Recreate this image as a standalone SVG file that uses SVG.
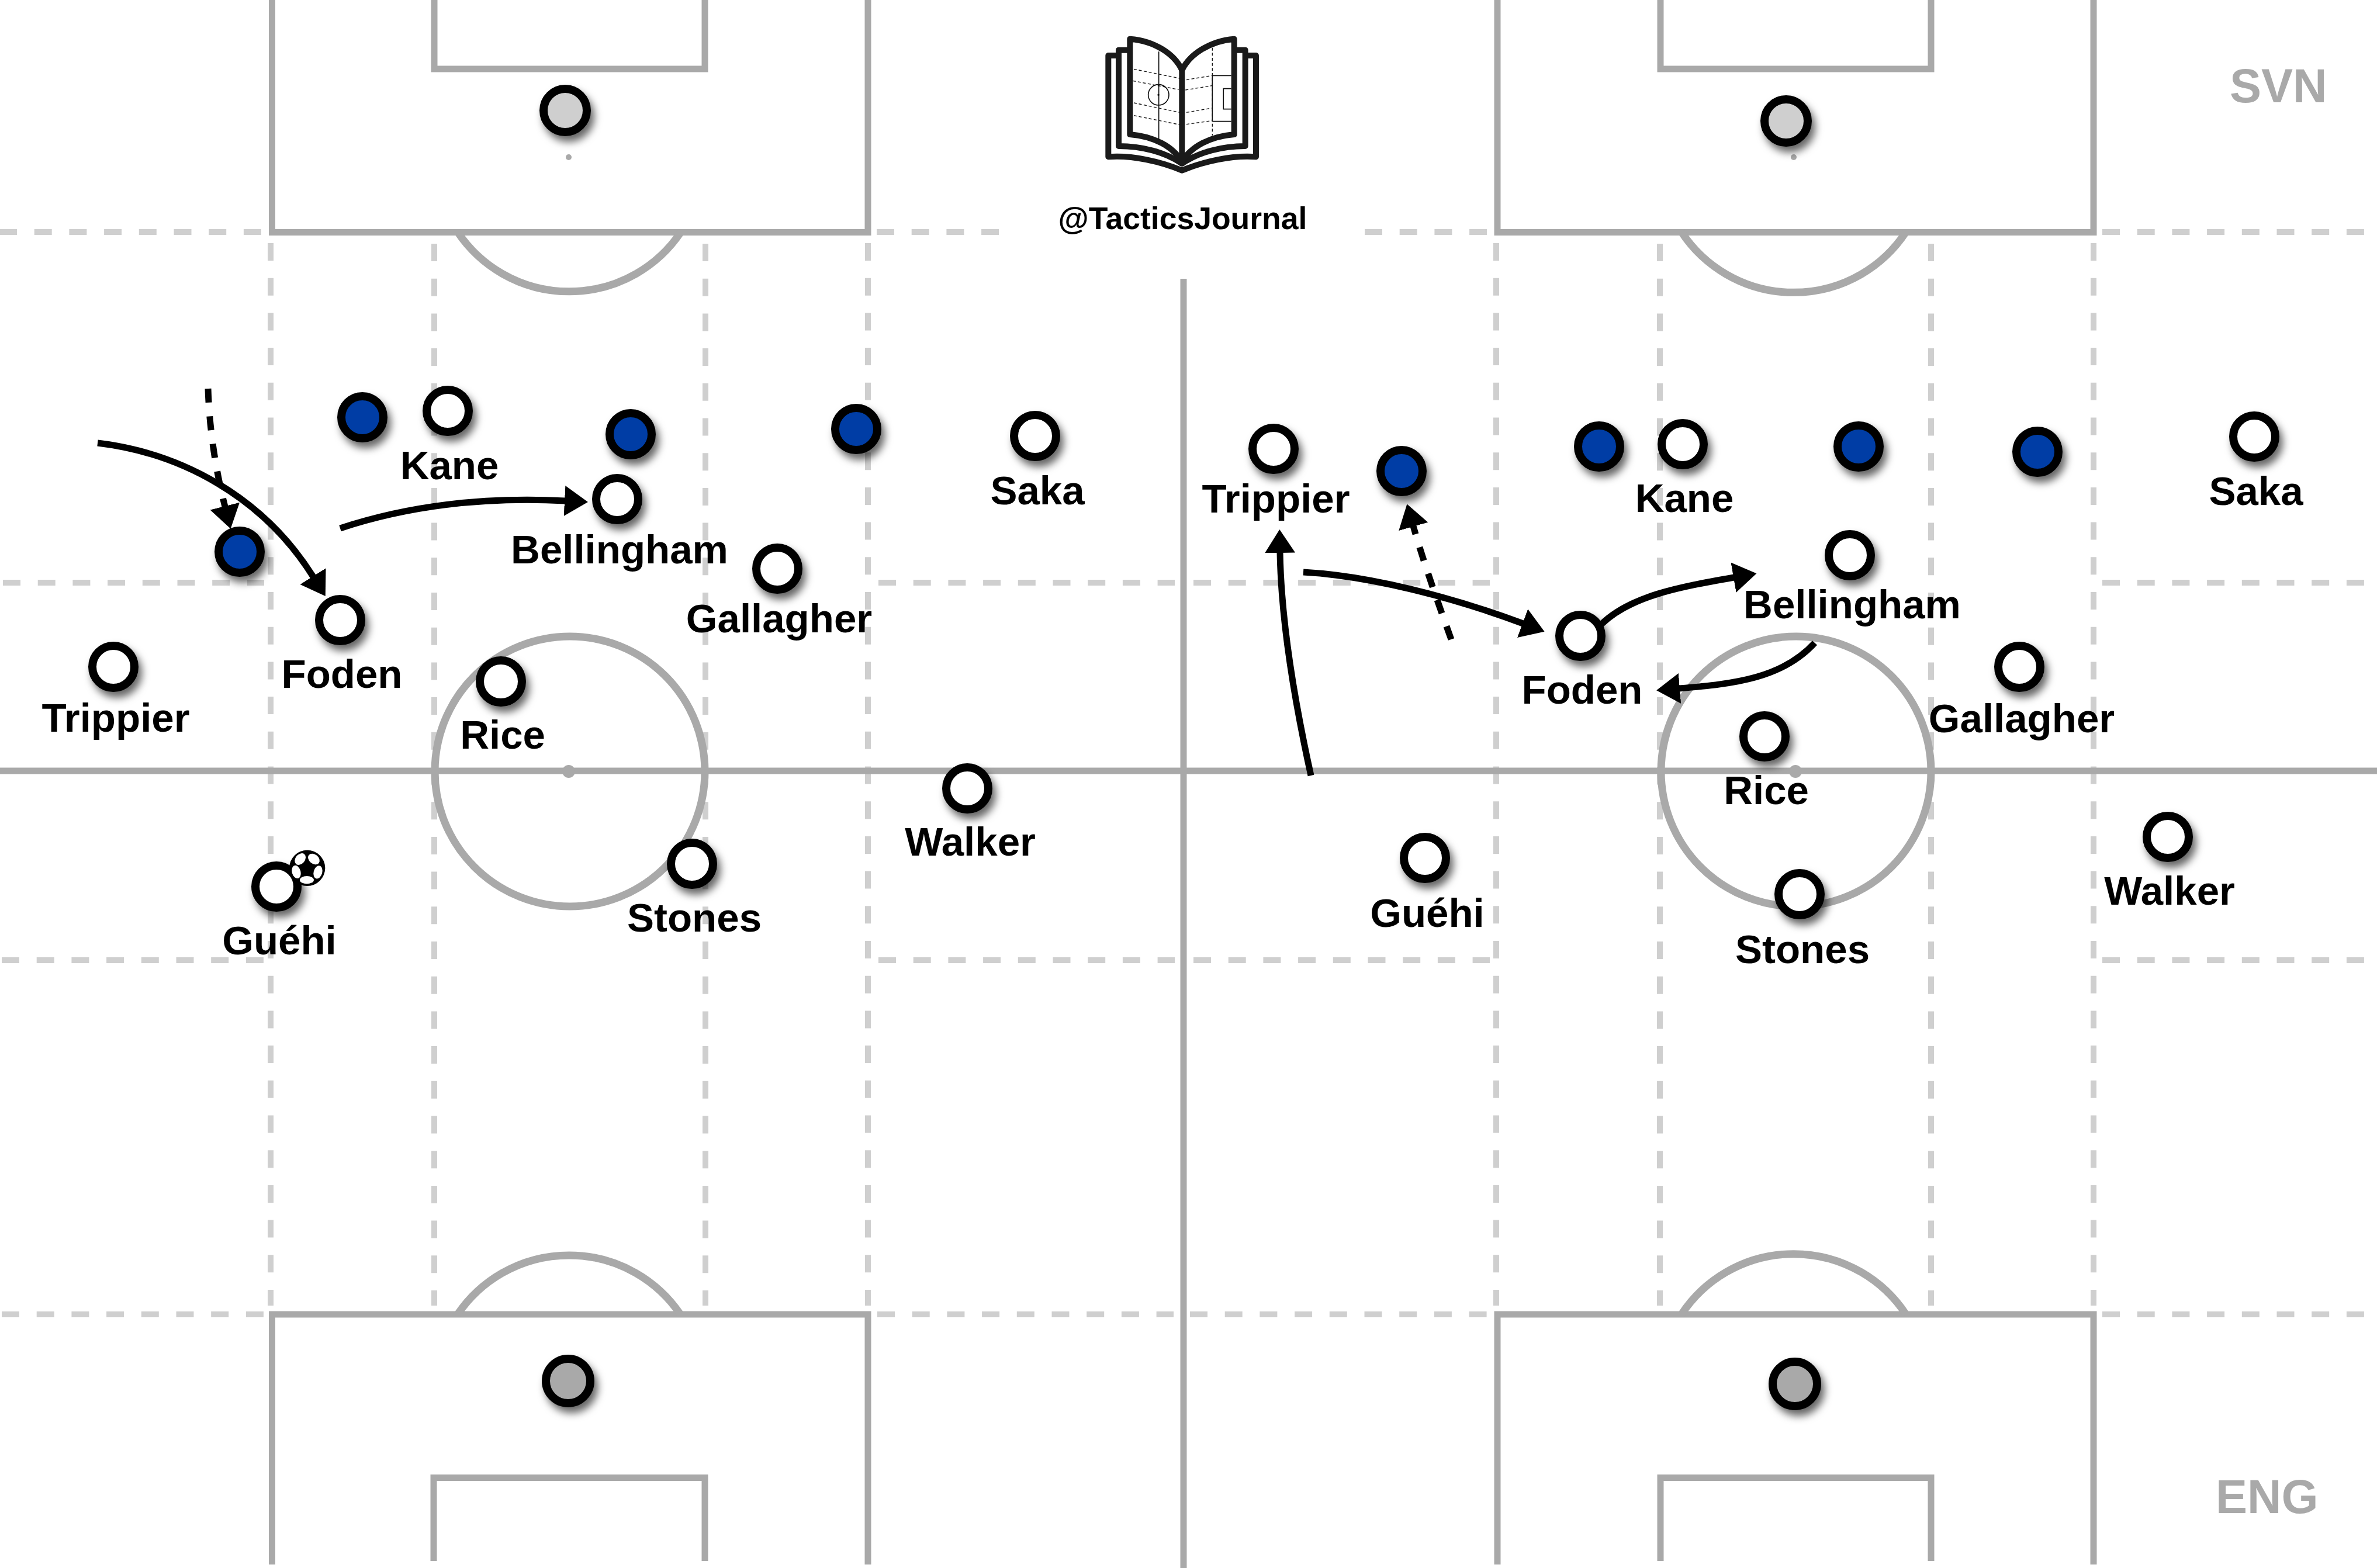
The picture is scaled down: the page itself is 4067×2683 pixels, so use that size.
<svg xmlns="http://www.w3.org/2000/svg" width="4067" height="2683" viewBox="0 0 4067 2683">
<style>
.ln{fill:none;stroke:#a9a9a9;stroke-width:11}
.th{stroke-width:13}
.ds{fill:none;stroke:#cfcfcf;stroke-width:10;stroke-dasharray:30 29.7}
.ar{fill:none;stroke:#000;stroke-width:11;marker-end:url(#head)}
.ad{fill:none;stroke:#000;stroke-width:11;stroke-dasharray:24 23.5;marker-end:url(#head)}
.p{stroke:#000;stroke-width:14;filter:url(#sh)}
.w{fill:#fff}.b{fill:#023ea5}
.t{font-family:"Liberation Sans",Arial,sans-serif;font-weight:700;font-size:69px;fill:#000;text-anchor:middle}
.g{font-family:"Liberation Sans",Arial,sans-serif;font-weight:700;font-size:81px;fill:#a9a9a9}
.bk{fill:#fff;stroke:#1a1a1a;stroke-width:30;stroke-linejoin:round}
.bd{fill:none;stroke:#111;stroke-width:4;stroke-dasharray:15 11}
.bs{fill:none;stroke:#111;stroke-width:5}
</style>
<defs>
<filter id="sh" x="-50%" y="-50%" width="220%" height="220%"><feDropShadow dx="6" dy="10" stdDeviation="7" flood-color="#000" flood-opacity="0.6"/></filter>
<marker id="head" markerUnits="userSpaceOnUse" markerWidth="42" markerHeight="54" refX="1" refY="27" orient="auto" viewBox="0 0 42 54"><path d="M0,1 L40,27 L0,53 Z" fill="#000"/></marker>
</defs>
<rect width="4067" height="2683" fill="#fff"/>
<g id="pitch">
<g id="zones">
<path class="ds" d="M-1,397H449M1500,397H1709M2335,397H2545M3597,397H4067"/>
<path class="ds" d="M5,997H452M1503,997H2010M2042,997H2549M3597,997H4067"/>
<path class="ds" d="M3,1643H452M1503,1643H2010M2042,1643H2549M3597,1643H4067"/>
<path class="ds" d="M3,2249H452M1501,2249H2008M2036,2249H2544M3597,2249H4067"/>
<path class="ds" d="M463,416V2234M743,417V2234M1207,417V2234M1485,416V2234M2560,416V2234M2840,417V2234M3304,417V2234M3582,416V2234"/>
</g>
<path class="ln" d="M0,1319H4067M2025,477V2683"/>
<path class="ln" d="M465.500,0V397.500H1485V0M743,0V118H1206V0"/>
<path class="ln" d="M2562,0V397.500H3582V0M2841,0V118H3304V0"/>
<path class="ln" d="M465.500,2677V2249H1485V2677M742,2671V2528.500H1206V2671"/>
<path class="ln" d="M2562,2677V2249H3582V2677M2841,2671V2528.500H3304V2671"/>
<path class="ln th" d="M783,397A230,230 0 0 0 1165,397M2877,397A230,230 0 0 0 3261,397"/>
<path class="ln th" d="M783,2249A230,230 0 0 1 1164,2249M2877,2249A230,230 0 0 1 3261,2249"/>
<circle class="ln th" cx="975" cy="1320" r="231"/>
<circle class="ln th" cx="3073" cy="1320" r="231"/>
<g fill="#a9a9a9"><circle cx="973" cy="1320" r="11"/><circle cx="3072" cy="1320" r="11"/><circle cx="973" cy="269" r="5"/><circle cx="3069" cy="269" r="5"/></g>
</g>
<g id="logo">
<g transform="translate(1780,20) scale(0.3333)">
<path class="bk" d="M402,225H349V745C470,735 620,770 727,815C835,770 985,735 1107,745V225H1052"/>
<path class="bk" d="M460,197H402V690C520,690 640,720 727,780C815,720 935,690 1052,690V197H995"/>
<path class="bk" d="M727,300C690,220 590,150 460,140V630C580,640 680,690 727,770C775,690 875,640 995,630V140C870,150 765,220 727,300Z"/>
<path d="M727,300V790" fill="none" stroke="#1a1a1a" stroke-width="30"/>
<path class="bs" d="M608,205V660M883,328H980M883,563H980M883,328V563M980,395H940V500H980"/>
<circle class="bs" cx="607" cy="427" r="53"/><circle cx="606" cy="427" r="5" fill="#111"/>
<path class="bd" d="M480,295L715,342M475,355L710,400M480,468L715,517M480,533L715,580M750,350L880,328M745,402L880,380M750,517L880,495M750,578L880,560M883,185V635"/>
</g>
<text x="2023.500" y="392" font-family="&quot;Liberation Sans&quot;,Arial,sans-serif" font-weight="700" font-size="53.500" text-anchor="middle" fill="#000">@TacticsJournal</text>
</g>
<text id="team-svn" class="g" x="3815" y="175">SVN</text>
<text id="team-eng" class="g" x="3791" y="2589">ENG</text>
<g id="connectors">
<path class="ar" d="M167,758C310,775 450,850 536,987"/>
<path class="ad" d="M356,665C358,730 368,800 385,867"/>
<path class="ar" d="M582,904C700,865 830,850 967,857"/>
<path class="ar" d="M2243,1327C2215,1200 2192,1060 2190,945"/>
<path class="ar" d="M2230,979C2340,985 2480,1020 2606,1067"/>
<path class="ad" d="M2483,1094C2460,1030 2435,960 2418,900"/>
<path class="ar" d="M2740,1068C2790,1020 2870,1005 2967,988"/>
<path class="ar" d="M3105,1100C3050,1160 2970,1170 2873,1178"/>
</g>
<g id="gk-1"><circle class="p" cx="967" cy="189" r="37" fill="#cfcfcf"/></g>
<g id="gk-2"><circle class="p" cx="3056" cy="207" r="37" fill="#cfcfcf"/></g>
<g id="gk-3"><circle class="p" cx="972" cy="2363" r="38" fill="#a9a9a9"/></g>
<g id="gk-4"><circle class="p" cx="3071" cy="2368" r="38" fill="#a9a9a9"/></g>
<g id="l-blue-1"><circle class="p b" cx="620" cy="714" r="36"/></g>
<g id="l-blue-2"><circle class="p b" cx="410" cy="944" r="36"/></g>
<g id="l-blue-3"><circle class="p b" cx="1079" cy="743" r="36"/></g>
<g id="l-blue-4"><circle class="p b" cx="1465" cy="734" r="36"/></g>
<g id="r-blue-1"><circle class="p b" cx="2398" cy="806" r="36"/></g>
<g id="r-blue-2"><circle class="p b" cx="2736" cy="764" r="36"/></g>
<g id="r-blue-3"><circle class="p b" cx="3180" cy="764" r="36"/></g>
<g id="r-blue-4"><circle class="p b" cx="3486" cy="773" r="36"/></g>
<g id="l-trippier"><circle class="p w" cx="194" cy="1141" r="36"/><text class="t" x="198" y="1252">Trippier</text></g>
<g id="l-kane"><circle class="p w" cx="766" cy="703" r="36"/><text class="t" x="769" y="820">Kane</text></g>
<g id="l-foden"><circle class="p w" cx="582" cy="1061" r="36"/><text class="t" x="585" y="1177">Foden</text></g>
<g id="l-rice"><circle class="p w" cx="857" cy="1166" r="36"/><text class="t" x="860" y="1281">Rice</text></g>
<g id="l-bellingham"><circle class="p w" cx="1056" cy="854" r="36"/><text class="t" x="1060" y="964">Bellingham</text></g>
<g id="l-gallagher"><circle class="p w" cx="1330" cy="973" r="36"/><text class="t" x="1333" y="1082">Gallagher</text></g>
<g id="l-saka"><circle class="p w" cx="1771" cy="746" r="36"/><text class="t" x="1775" y="863">Saka</text></g>
<g id="l-walker"><circle class="p w" cx="1655" cy="1349" r="36"/><text class="t" x="1660" y="1464">Walker</text></g>
<g id="l-stones"><circle class="p w" cx="1184" cy="1478" r="36"/><text class="t" x="1188" y="1594">Stones</text></g>
<g id="l-guehi"><circle class="p w" cx="473" cy="1517" r="36"/><text class="t" x="478" y="1633">Guéhi</text></g>
<g id="ball" transform="translate(350,1380) scale(0.3333)">
<circle cx="527" cy="316" r="92" fill="#000"/>
<g fill="#fff"><ellipse cx="491" cy="270" rx="33" ry="24" transform="rotate(-50 491 270)"/><ellipse cx="561" cy="270" rx="33" ry="24" transform="rotate(40 561 270)"/><ellipse cx="582" cy="337" rx="34" ry="22" transform="rotate(-75 582 337)"/><ellipse cx="525" cy="377" rx="36" ry="20"/><ellipse cx="471" cy="336" rx="34" ry="22" transform="rotate(75 471 336)"/></g>
</g>
<g id="r-trippier"><circle class="p w" cx="2179" cy="768" r="36"/><text class="t" x="2183" y="877">Trippier</text></g>
<g id="r-kane"><circle class="p w" cx="2879" cy="760" r="36"/><text class="t" x="2882" y="876">Kane</text></g>
<g id="r-bellingham"><circle class="p w" cx="3165" cy="950" r="36"/><text class="t" x="3169" y="1058">Bellingham</text></g>
<g id="r-foden"><circle class="p w" cx="2704" cy="1088" r="36"/><text class="t" x="2707" y="1204">Foden</text></g>
<g id="r-gallagher"><circle class="p w" cx="3455" cy="1141" r="36"/><text class="t" x="3459" y="1253">Gallagher</text></g>
<g id="r-rice"><circle class="p w" cx="3019" cy="1260" r="36"/><text class="t" x="3022" y="1376">Rice</text></g>
<g id="r-saka"><circle class="p w" cx="3857" cy="747" r="36"/><text class="t" x="3860" y="864">Saka</text></g>
<g id="r-walker"><circle class="p w" cx="3709" cy="1432" r="36"/><text class="t" x="3712" y="1548">Walker</text></g>
<g id="r-stones"><circle class="p w" cx="3079" cy="1530" r="36"/><text class="t" x="3084" y="1648">Stones</text></g>
<g id="r-guehi"><circle class="p w" cx="2438" cy="1468" r="36"/><text class="t" x="2442" y="1586">Guéhi</text></g>
</svg>
